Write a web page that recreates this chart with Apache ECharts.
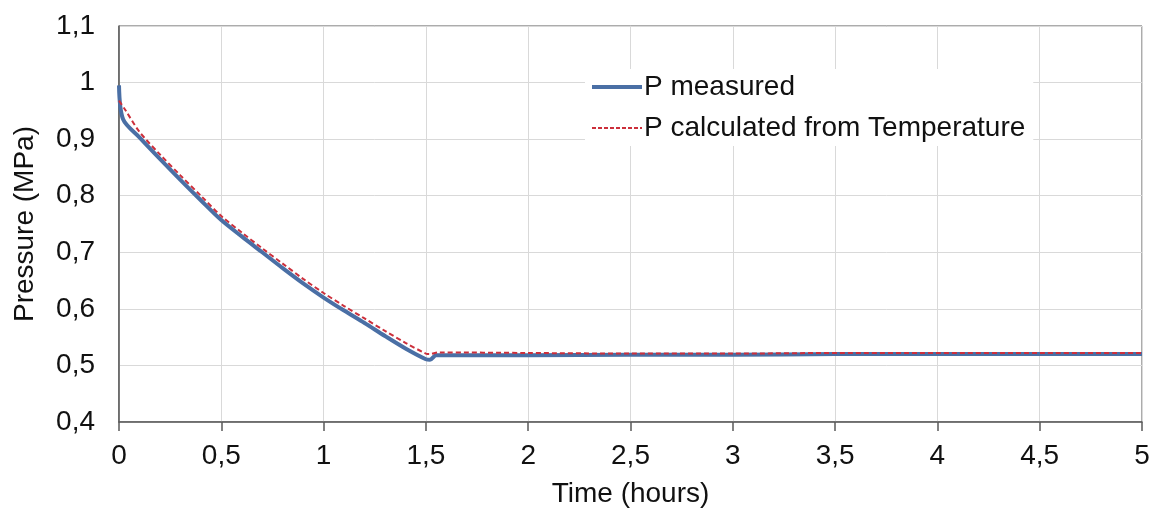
<!DOCTYPE html>
<html>
<head>
    <meta charset="utf-8">
    <title>Pressure vs time</title>
    <script src="https://cdn.jsdelivr.net/npm/echarts@6/dist/echarts.min.js"></script>
    <style>
        html, body { margin: 0; padding: 0; background: #fff; }
        #chart { width: 1158px; height: 513px; }
    </style>
</head>
<body>
<div id="chart"></div>
<script type="text/javascript">
    // values (time in hours, pressure in MPa)
    var seriesNames = ['P measured', 'P calculated from Temperature'];

    var tMeasured = [0, 0.02, 0.1, 0.2, 0.3, 0.4, 0.5, 0.6, 0.7, 0.8, 0.9, 1.0,
        1.1, 1.2, 1.3, 1.4, 1.5, 1.52, 1.55, 2, 2.5, 3, 3.5, 4, 4.5, 5];
    var pMeasured = [0.995, 0.935, 0.903, 0.865, 0.828, 0.792, 0.757, 0.728, 0.700, 0.672, 0.645, 0.620,
        0.597, 0.575, 0.552, 0.530, 0.511, 0.510, 0.518, 0.518, 0.519, 0.519, 0.520, 0.520, 0.520, 0.520];

    var tCalc = [0, 0.03, 0.1, 0.2, 0.3, 0.4, 0.5, 0.6, 0.7, 0.8, 0.9, 1.0,
        1.1, 1.2, 1.3, 1.4, 1.5, 1.52, 1.56, 2, 2.5, 3, 3.5, 4, 4.5, 5];
    var pCalc = [0.968, 0.952, 0.913, 0.873, 0.836, 0.800, 0.764, 0.735, 0.707, 0.680, 0.653, 0.628,
        0.605, 0.583, 0.561, 0.540, 0.521, 0.520, 0.523, 0.522, 0.521, 0.521, 0.522, 0.522, 0.522, 0.522];

    var blue = '#4a6fa5';
    var red = '#cc2f3b';

    function zip(xs, ys) {
        var out = [];
        for (var i = 0; i < xs.length; i++) {
            out.push([xs[i], ys[i]]);
        }
        return out;
    }

    function comma(v) {
        return String(Number(v.toFixed(1))).replace('.', ',');
    }

    var font = 'Liberation Sans, Arial, sans-serif';
    var myChart = echarts.init(document.getElementById('chart'));
    myChart.setOption({
        animation: false,
        backgroundColor: '#fff',
        grid: {
            left: 119,
            right: 16,
            top: 26,
            bottom: 89,
            show: true,
            borderColor: '#595959',
            borderWidth: 1
        },
        legend: {
            orient: 'vertical',
            left: 585,
            top: 69,
            padding: [4, 8, 4, 5],
            backgroundColor: '#fff',
            itemWidth: 50,
            itemHeight: 14,
            itemGap: 13,
            itemStyle: { opacity: 0 },
            textStyle: { fontFamily: font, fontSize: 28, color: '#111', padding: [0, 0, 0, -3] },
            data: [
                { name: seriesNames[0], lineStyle: { color: blue, width: 4 } },
                { name: seriesNames[1], lineStyle: { color: red, width: 2, type: [4, 2] } }
            ]
        },
        xAxis: {
            type: 'value',
            min: 0,
            max: 5,
            interval: 0.5,
            name: 'Time (hours)',
            nameLocation: 'middle',
            nameGap: 58,
            nameTextStyle: { fontFamily: font, fontSize: 28, color: '#111' },
            axisLine: { lineStyle: { color: '#595959', width: 1.5 } },
            axisTick: { show: true, length: 9, lineStyle: { color: '#595959', width: 1.5 } },
            axisLabel: {
                fontFamily: font, fontSize: 28, color: '#111', margin: 20,
                formatter: comma
            },
            splitLine: { show: true, lineStyle: { color: '#d9d9d9', width: 1 } }
        },
        yAxis: {
            type: 'value',
            min: 0.4,
            max: 1.1,
            interval: 0.1,
            name: 'Pressure (MPa)',
            nameLocation: 'middle',
            nameGap: 80,
            nameTextStyle: { fontFamily: font, fontSize: 28, color: '#111' },
            axisLine: { show: true, lineStyle: { color: '#595959', width: 1.5 } },
            axisTick: { show: false },
            axisLabel: {
                fontFamily: font, fontSize: 28, color: '#111', margin: 24,
                formatter: comma
            },
            splitLine: { show: true, lineStyle: { color: '#d9d9d9', width: 1 } }
        },
        series: [
            {
                name: seriesNames[0],
                type: 'line',
                showSymbol: false,
                symbol: 'none',
                smooth: 0.3,
                lineStyle: { color: blue, width: 4 },
                itemStyle: { color: blue },
                data: zip(tMeasured, pMeasured)
            },
            {
                name: seriesNames[1],
                type: 'line',
                showSymbol: false,
                symbol: 'none',
                smooth: 0.3,
                lineStyle: { color: red, width: 2, type: [5, 3] },
                itemStyle: { color: red },
                data: zip(tCalc, pCalc)
            }
        ]
    });
</script>
</body>
</html>
